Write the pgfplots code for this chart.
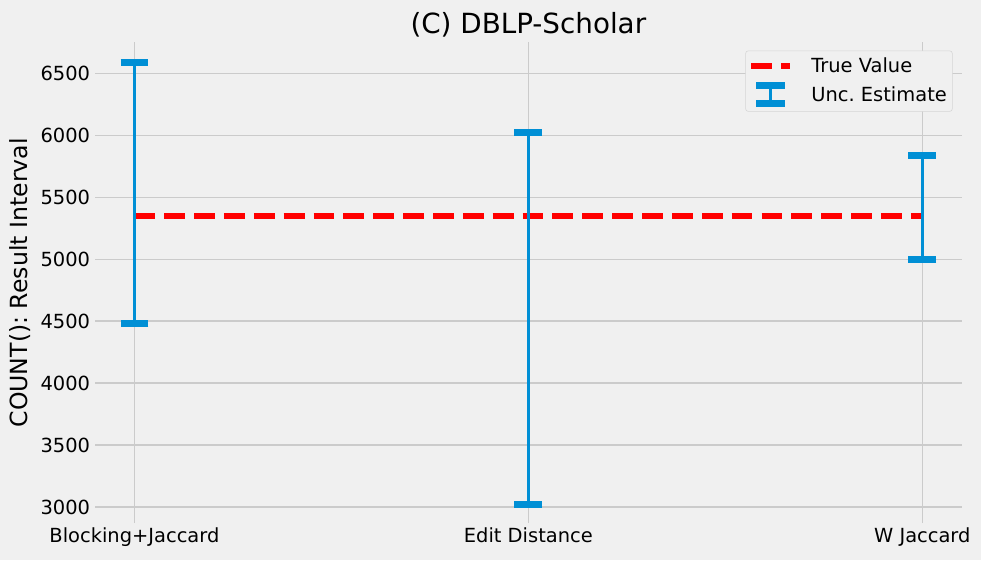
\documentclass[border=0pt]{standalone}
\usepackage{pgfplots}
\usepackage{pgfplotstable}
\pgfplotsset{compat=1.18}
\usepackage{fontspec}
\setmainfont{DejaVu Sans}
\frenchspacing
\definecolor{bg}{HTML}{F0F0F0}
\definecolor{gridc}{HTML}{CBCBCB}
\definecolor{ebblue}{HTML}{008FD5}

% interval bounds
\pgfplotstableread{
x lo hi
0 4480 6590
1 3020 6020
2 5000 5840
}\intervals

\begin{document}
\begin{tikzpicture}
\fill[bg] (-68.4pt,-26.6pt) rectangle (637.9pt,376.6pt);
\begin{axis}[
  scale only axis, width=624pt, height=346pt,
  axis background/.style={fill=bg},
  axis line style={draw=none},
  major tick length=0pt,
  xmin=-0.1, xmax=2.1, ymin=2870, ymax=6750,
  xtick={0,1,2}, xticklabels={Blocking+Jaccard,Edit Distance,W Jaccard},
  ytick={3000,3500,...,6500},
  grid=major, grid style={draw=gridc, line width=1pt},
  /pgf/number format/assume math mode=true,
  /pgf/number format/set thousands separator={},
  tick label style={font=\fontsize{14}{16}\selectfont, text=black},
  title={(C) DBLP-Scholar},
  title style={font=\fontsize{20}{24}\selectfont, yshift=-6pt},
  ylabel={COUNT(): Result Interval},
  ylabel style={font=\fontsize{17}{20}\selectfont},
  legend style={at={(rel axis cs:1,1)}, anchor=north east, xshift=-6.5pt, yshift=-5.8pt,
    fill=bg, draw=gridc!80, rounded corners=2pt, font=\fontsize{14}{16}\selectfont,
    row sep=3.5pt, inner xsep=2pt, inner ysep=3pt},
  legend cell align=left,
]
\addplot[red, line width=4.3pt, dash pattern=on 15pt off 6.5pt, forget plot]
  coordinates {(0,5350) (2,5350)};
\addlegendimage{legend image code/.code={
  \draw[red, line width=4.3pt, dash pattern=on 15pt off 6.5pt] (-7pt,0pt) -- (21pt,0pt);
  \path (34pt,0pt);
}}
\addlegendentry{True Value}
\addplot[draw=none, mark=none, forget plot,
  error bars/.cd, y dir=both, y explicit,
  error bar style={ebblue, line width=2pt},
  error mark=|,
  error mark options={ebblue, line width=5pt, mark size=10pt}]
  table[x=x, y expr=(\thisrow{lo}+\thisrow{hi})/2, y error expr=(\thisrow{hi}-\thisrow{lo})/2] {\intervals};
\addlegendimage{legend image code/.code={
  \draw[ebblue, line width=2pt] (7pt,-6.5pt) -- (7pt,6.5pt);
  \draw[ebblue, line width=5pt] (-3.5pt,-6.5pt) -- (17.5pt,-6.5pt);
  \draw[ebblue, line width=5pt] (-3.5pt,6.5pt) -- (17.5pt,6.5pt);
  \path (34pt,0pt);
}}
\addlegendentry{Unc. Estimate}
\end{axis}
\end{tikzpicture}
\end{document}
